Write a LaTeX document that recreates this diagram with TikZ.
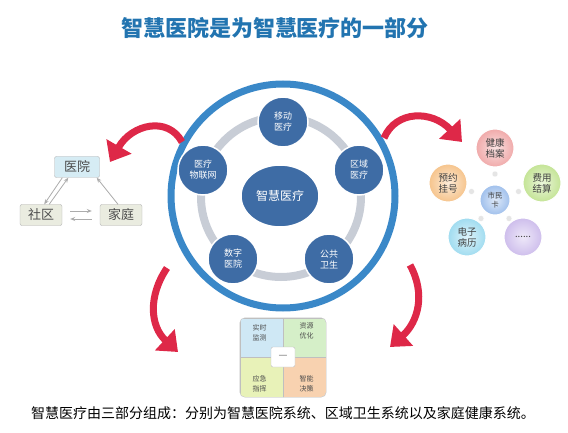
\documentclass[tikz,border=0pt]{standalone}
\usepackage{fontspec}
\setmainfont{Noto Sans CJK SC}
\usetikzlibrary{shapes.geometric,arrows.meta,calc,positioning}
\definecolor{ringblue}{RGB}{58,136,200}
\definecolor{satblue}{RGB}{62,108,165}
\definecolor{ringgray}{RGB}{200,205,214}
\definecolor{titleblue}{RGB}{34,116,176}
\definecolor{arrred}{RGB}{222,40,72}
\definecolor{boxblue}{RGB}{214,236,244}
\definecolor{boxgreen}{RGB}{234,236,224}
\definecolor{pinkb}{RGB}{240,170,170}
\definecolor{orangeb}{RGB}{246,196,140}
\definecolor{greenb}{RGB}{196,228,150}
\definecolor{blueb}{RGB}{160,192,236}
\definecolor{cyanb}{RGB}{160,220,240}
\definecolor{purpleb}{RGB}{206,190,236}
\definecolor{cellblue}{RGB}{207,232,245}
\definecolor{cellgreen}{RGB}{213,239,200}
\definecolor{cellyellow}{RGB}{232,242,184}
\definecolor{cellpeach}{RGB}{248,210,176}

\begin{document}
\begin{tikzpicture}[x=1pt, y=-1pt]
\tikzset{sat/.style = {circle, minimum size=50pt, inner sep=0, fill=satblue, draw=white, line width=1.5pt, text=white, font=\fontsize{9}{11}\selectfont, align=center}}
\tikzset{box/.style = {draw=gray!60, rounded corners=2pt, minimum width=42pt, minimum height=21pt, font=\fontsize{13}{15}\selectfont, text=black!70}}
\tikzset{link/.style = {-{Stealth[length=5pt, width=4pt]}, draw=gray!65, line width=0.8pt}}
\tikzset{redbend/.style = {draw=arrred, line width=7pt, -{Triangle[length=18pt, width=28pt]}}}
\tikzset{ball/.style = {circle, minimum size=38pt, inner sep=0, draw=white, line width=1pt, font=\fontsize{9.5}{11}\selectfont, text=black!75, align=center}}
\tikzset{dot/.style = {circle, minimum size=6pt, inner sep=0, fill=gray!20, draw=white}}
\tikzset{cell/.style = {draw=gray!50, minimum width=43pt, minimum height=39.5pt, inner sep=0}}
\tikzset{celltext/.style = {font=\fontsize{7}{10}\selectfont, text=black!70, align=center}}
  \useasboundingbox (0,0) rectangle (568,433);
  % title
  \node[font=\fontsize{22}{24}\selectfont\bfseries, text=titleblue] (title) at (275,28) {智慧医院是为智慧医疗的一部分};
  % rings
  \draw[ringblue, line width=7pt] (283,196) circle (112pt);
  \draw[ringgray, line width=8pt] (281,197) circle (80pt);
  \node[ellipse, minimum width=78pt, minimum height=62pt, fill=satblue, draw=white, line width=1.5pt, text=white, font=\fontsize{12}{14}\selectfont] (zhyl) at (280,196) {智慧医疗};
  \node[sat] (yd) at (283,122) {移动\\医疗};
  \node[sat] (qy) at (359,170) {区域\\医疗};
  \node[sat] (wlw) at (203,170) {医疗\\物联网};
  \node[sat] (sz) at (233,259) {数字\\医院};
  \node[sat] (gg) at (329,259) {公共\\卫生};
  % left triangle
  \node[box, fill=boxblue, minimum width=45pt] (yy) at (77,167) {医院};
  \node[box, fill=boxgreen] (sq) at (41,215) {社区};
  \node[box, fill=boxgreen] (jt) at (121,215) {家庭};
  \draw[link] ([xshift=8pt]yy.south west) -- ([xshift=-18pt]sq.north east);
  \draw[link] ([xshift=-13pt]sq.north east) -- ([xshift=14pt]yy.south west);
  \draw[link] ([xshift=-3pt]jt.north) -- ([xshift=-3pt]yy.south east);
  \draw[link] ([xshift=8pt,yshift=4pt]sq.east) -- ([xshift=-8pt,yshift=4pt]jt.west);
  \draw[link] ([xshift=-8pt,yshift=-4pt]jt.west) -- ([xshift=8pt,yshift=-4pt]sq.east);
  % red arrows
  \coordinate (a1) at (182,142);
  \coordinate (b1) at (110,162);
  \coordinate (a2) at (384,138);
  \coordinate (b2) at (462,142);
  \coordinate (a3) at (167,268);
  \coordinate (b3) at (178,352);
  \coordinate (a4) at (410,265);
  \coordinate (b4) at (390,347);
  \draw[redbend] (a1) .. controls (168,116) and (132,124) .. (b1);
  \draw[redbend] (a2) .. controls (396,110) and (432,110) .. (b2);
  \draw[redbend] (a3) .. controls (148,296) and (150,326) .. (b3);
  \draw[redbend] (a4) .. controls (426,294) and (418,322) .. (b4);
  % right cluster
  \node[ball, shading=radial, inner color=pinkb!35, outer color=pinkb] (jkda) at (495,148) {健康\\档案};
  \node[ball, shading=radial, inner color=orangeb!35, outer color=orangeb] (yygh) at (448,183) {预约\\挂号};
  \node[ball, shading=radial, inner color=greenb!35, outer color=greenb] (fyjs) at (542,183) {费用\\结算};
  \node[ball, shading=radial, inner color=cyanb!35, outer color=cyanb] (dzbl) at (467,237) {电子\\病历};
  \node[ball, shading=radial, inner color=purpleb!35, outer color=purpleb] (more) at (523,237) {......};
  \node[ball, minimum size=30pt, shading=radial, inner color=blueb!35, outer color=blueb, font=\fontsize{7.5}{9}\selectfont] (smk) at (495,200) {市民\\卡};
  \foreach \n in {jkda,yygh,fyjs,dzbl,more}
    \node[dot] at ($(smk)!0.5!(\n)$) {};
  % bottom box
  \begin{scope}
    \clip[rounded corners=5pt] (240,318) rectangle (326,397);
    \node[cell, fill=cellblue] (tl) at (261.5,337.75) {};
    \node[cell, fill=cellgreen] (tr) at (304.5,337.75) {};
    \node[cell, fill=cellyellow] (bl) at (261.5,377.25) {};
    \node[cell, fill=cellpeach] (br) at (304.5,377.25) {};
  \end{scope}
  \draw[gray!50, rounded corners=5pt] (tl.north west) rectangle (br.south east);
  \node[celltext] at ([shift={(-2pt,5pt)}]tl.center) {实时\\监测};
  \node[celltext] at ([shift={(2pt,7pt)}]tr.center) {资源\\优化};
  \node[celltext] at ([shift={(-2pt,-7pt)}]bl.center) {应急\\指挥};
  \node[celltext] at ([shift={(2pt,-7pt)}]br.center) {智能\\决策};
  \node[draw=gray!50, fill=white, rounded corners=2pt, minimum width=24pt, minimum height=20pt, text=black!60] (mid) at (283,357) {—};
  % caption
  \node[font=\fontsize{14}{16}\selectfont] (note) at (283,413) {智慧医疗由三部分组成：分别为智慧医院系统、区域卫生系统以及家庭健康系统。};
\end{tikzpicture}
\end{document}
